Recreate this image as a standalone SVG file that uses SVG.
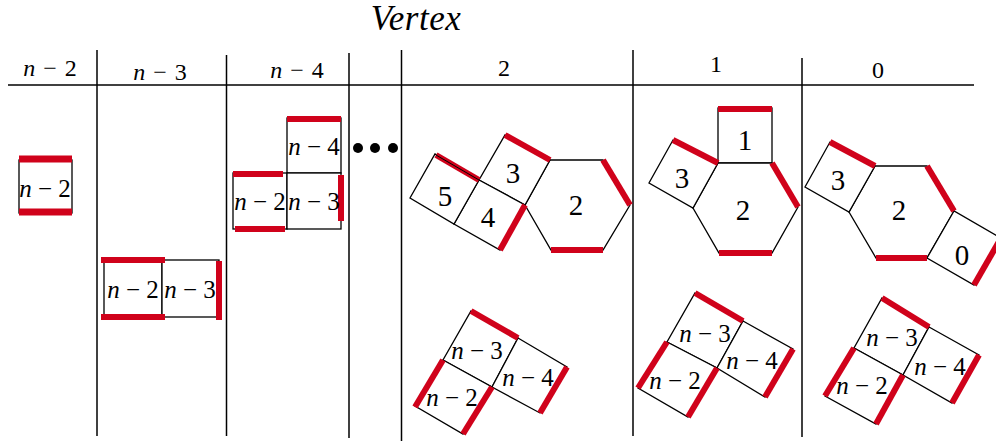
<svg xmlns="http://www.w3.org/2000/svg" width="996" height="441" viewBox="0 0 996 441" font-family="'Liberation Serif', 'DejaVu Serif', serif">
<style>
.ln{stroke:#000;stroke-width:1.5;fill:none}
.sh{stroke:#000;stroke-width:1.3;fill:#fff;stroke-linejoin:miter}
.rd{stroke:#d0021b;stroke-width:6;fill:none}
.rdt{stroke:#d0021b;stroke-width:7;fill:none}
.tx{font-family:'Liberation Serif','DejaVu Serif',serif;fill:#000}
.hd{font-size:24px;text-anchor:middle;word-spacing:2px}
.lb{font-size:25px;text-anchor:middle}
.nm{font-size:29px;text-anchor:middle}
.it{font-style:italic}
</style>
<rect width="996" height="441" fill="#fff"/>
<text class="tx" x="416" y="30" font-size="35" font-style="italic" text-anchor="middle" letter-spacing="0.5">Vertex</text>
<g id="grid">
<line class="ln" x1="8" y1="85" x2="974" y2="85"/>
<line class="ln" x1="97" y1="50" x2="97" y2="436"/>
<line class="ln" x1="226.5" y1="55" x2="226.5" y2="436"/>
<line class="ln" x1="349" y1="53" x2="349" y2="438"/>
<line class="ln" x1="401.5" y1="50" x2="401.5" y2="441"/>
<line class="ln" x1="633" y1="50" x2="633" y2="436"/>
<line class="ln" x1="802" y1="58" x2="802" y2="437"/>
</g>
<g id="headers">
<text class="tx hd" x="50" y="76"><tspan class="it">n</tspan> − 2</text>
<text class="tx hd" x="160" y="80"><tspan class="it">n</tspan> − 3</text>
<text class="tx hd" x="297" y="78"><tspan class="it">n</tspan> − 4</text>
<text class="tx hd" x="504" y="76">2</text>
<text class="tx hd" x="716" y="72">1</text>
<text class="tx hd" x="878" y="78">0</text>
</g>
<g id="node-col1">
<rect class="sh" x="19" y="160" width="53" height="53"/>
<line class="rdt" x1="19" y1="159" x2="72" y2="159"/>
<line class="rdt" x1="19" y1="212" x2="72" y2="212"/>
<text class="tx lb" x="45" y="197"><tspan class="it">n</tspan> − 2</text>
</g>
<g id="node-col2">
<rect class="sh" x="104" y="260" width="58" height="57"/>
<rect class="sh" x="162" y="260" width="57" height="57"/>
<line class="rd" x1="101" y1="260" x2="165" y2="260"/>
<line class="rd" x1="101" y1="317" x2="165" y2="317"/>
<line class="rd" x1="219" y1="261" x2="219" y2="320"/>
<text class="tx lb" x="133" y="298"><tspan class="it">n</tspan> − 2</text>
<text class="tx lb" x="190" y="298"><tspan class="it">n</tspan> − 3</text>
</g>
<g id="node-col3">
<rect class="sh" x="287" y="118" width="54" height="55"/>
<rect class="sh" x="233" y="173" width="54" height="56"/>
<rect class="sh" x="287" y="173" width="54" height="56"/>
<line class="rd" x1="287" y1="119" x2="341" y2="119"/>
<line class="rd" x1="233" y1="174" x2="283" y2="174"/>
<line class="rd" x1="235" y1="229" x2="285" y2="229"/>
<line class="rd" x1="341" y1="175" x2="341" y2="221"/>
<text class="tx lb" x="314" y="155"><tspan class="it">n</tspan> − 4</text>
<text class="tx lb" x="260" y="210"><tspan class="it">n</tspan> − 2</text>
<text class="tx lb" x="314" y="210"><tspan class="it">n</tspan> − 3</text>
</g>
<g id="ellipsis">
<circle cx="358" cy="148" r="5"/>
<circle cx="375" cy="148" r="5"/>
<circle cx="393" cy="148" r="5"/>
</g>
<g id="node-v2-top">
<polygon class="sh" points="550,160 603,160 630,205 603,250 551,250 525,205"/>
<polygon class="sh" points="550,160 505,135 479,180 525,205"/>
<polygon class="sh" points="479,180 525,205 500,250 454,224"/>
<polygon class="sh" points="479,180 454,224 410,198 435,154"/>
<line class="rd" x1="603" y1="160" x2="630" y2="205"/>
<line class="rd" x1="551" y1="250" x2="603" y2="250"/>
<line class="rd" x1="505" y1="135" x2="550" y2="160"/>
<line class="rd" x1="525" y1="205" x2="500" y2="250"/>
<line class="rd" x1="436" y1="155" x2="479" y2="180" stroke-width="4"/>
<line x1="436" y1="155" x2="479" y2="180" stroke="#000" stroke-width="1"/>
<text class="tx nm" x="576" y="215">2</text>
<text class="tx nm" x="513" y="183">3</text>
<text class="tx nm" x="488" y="227">4</text>
<text class="tx nm" x="445" y="206">5</text>
</g>
<g id="node-v2-bottom">
<polygon class="sh" points="471,311 518,338 492,387 443,360"/>
<polygon class="sh" points="518,338 567,367 540,413 492,387"/>
<polygon class="sh" points="443,360 492,387 463,434 415,406"/>
<line class="rd" x1="471" y1="311" x2="518" y2="338"/>
<line class="rd" x1="443" y1="360" x2="415" y2="407"/>
<line class="rd" x1="492" y1="387" x2="463" y2="434"/>
<line class="rd" x1="567" y1="367" x2="540" y2="413"/>
<text class="tx lb" x="477" y="359"><tspan class="it">n</tspan> − 3</text>
<text class="tx lb" x="528" y="386"><tspan class="it">n</tspan> − 4</text>
<text class="tx lb" x="452" y="406"><tspan class="it">n</tspan> − 2</text>
</g>
<g id="node-v1-top">
<rect class="sh" x="718" y="108" width="54" height="55"/>
<polygon class="sh" points="718,163 772,163 798,207 772,253 719,253 693,208"/>
<polygon class="sh" points="718,163 693,208 649,183 673,140"/>
<line class="rd" x1="718" y1="109" x2="772" y2="109"/>
<line class="rd" x1="772" y1="163" x2="798" y2="207"/>
<line class="rd" x1="719" y1="253" x2="772" y2="253"/>
<line class="rd" x1="673" y1="140" x2="718" y2="163"/>
<text class="tx nm" x="745" y="150">1</text>
<text class="tx nm" x="743" y="220">2</text>
<text class="tx nm" x="682" y="188">3</text>
</g>
<g id="node-v1-bottom">
<polygon class="sh" points="695,293 743,321 717,368 667,342"/>
<polygon class="sh" points="743,321 793,349 765,397 717,368"/>
<polygon class="sh" points="667,342 717,368 688,417 638,388"/>
<line class="rd" x1="695" y1="293" x2="743" y2="321"/>
<line class="rd" x1="667" y1="342" x2="638" y2="388"/>
<line class="rd" x1="717" y1="368" x2="688" y2="417"/>
<line class="rd" x1="793" y1="349" x2="765" y2="397"/>
<text class="tx lb" x="705" y="342"><tspan class="it">n</tspan> − 3</text>
<text class="tx lb" x="752" y="369"><tspan class="it">n</tspan> − 4</text>
<text class="tx lb" x="675" y="389"><tspan class="it">n</tspan> − 2</text>
</g>
<g id="node-v0-top">
<polygon class="sh" points="875,166 927,166 954,211 927,258 876,258 849,212"/>
<polygon class="sh" points="875,166 849,212 805,187 830,142"/>
<polygon class="sh" points="954,211 927,258 974,285 1001,238"/>
<line class="rd" x1="927" y1="166" x2="954" y2="211"/>
<line class="rd" x1="876" y1="258" x2="927" y2="258"/>
<line class="rd" x1="830" y1="142" x2="875" y2="166"/>
<line class="rd" x1="1001" y1="238" x2="974" y2="285"/>
<text class="tx nm" x="899" y="220">2</text>
<text class="tx nm" x="838" y="190">3</text>
<text class="tx nm" x="962" y="265">0</text>
</g>
<g id="node-v0-bottom">
<polygon class="sh" points="882,298 929,327 903,375 854,348"/>
<polygon class="sh" points="929,327 979,355 952,403 903,375"/>
<polygon class="sh" points="854,348 903,375 876,424 825,396"/>
<line class="rd" x1="882" y1="298" x2="929" y2="327"/>
<line class="rd" x1="854" y1="348" x2="825" y2="396"/>
<line class="rd" x1="903" y1="375" x2="876" y2="424"/>
<line class="rd" x1="979" y1="355" x2="952" y2="403"/>
<text class="tx lb" x="892" y="346"><tspan class="it">n</tspan> − 3</text>
<text class="tx lb" x="940" y="375"><tspan class="it">n</tspan> − 4</text>
<text class="tx lb" x="862" y="394"><tspan class="it">n</tspan> − 2</text>
</g>
</svg>
